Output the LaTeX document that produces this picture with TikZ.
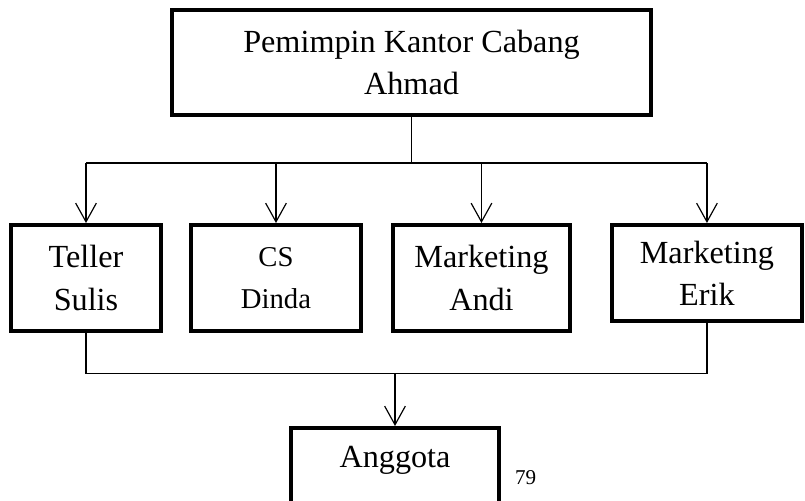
\documentclass[tikz,border=0pt]{standalone}
\usepackage{fontspec}
\setmainfont{Liberation Serif}
\usetikzlibrary{positioning, arrows.meta}

\begin{document}
\begin{tikzpicture}[
  unit/.style={draw, line width=3.4pt, minimum height=3.18cm, align=center,
               inner sep=2pt, font=\fontsize{27.5}{36}\selectfont},
  conn/.style={line width=1pt, color=black},
  arr/.style={-{Straight Barb[length=5.6mm, width=6.2mm, line width=1pt]}, line width=1pt},
  hal/.style={font=\fontsize{18}{20}\selectfont},
]

\useasboundingbox (0,0) rectangle (24.15,-15);

% === Pimpinan (top) ===
\node[unit, minimum width=14.37cm, minimum height=3.15cm] (pimpinan) at (12.345,-1.875)
     {Pemimpin Kantor Cabang\\Ahmad};

% === Staff row ===
\node[unit, minimum width=4.5cm] (teller) at (2.58,-8.34) {Teller\\Sulis};
\node[unit, minimum width=5.1cm, font=\fontsize{24.5}{36}\selectfont,
      right=0.78cm of teller.north east, anchor=north west] (cs) {CS\\Dinda};
\node[unit, minimum width=5.31cm,
      right=0.84cm of cs.north east, anchor=north west] (andi) {Marketing\\Andi};
\node[unit, minimum width=5.7cm, minimum height=2.88cm,
      right=1.14cm of andi.north east, anchor=north west] (erik) {Marketing\\Erik};

% === Anggota (bottom) ===
\node[unit, minimum width=6.24cm, minimum height=3cm, text height=0.6cm, text depth=1.2cm,
      anchor=north] (anggota) at (11.85,-12.78) {Anggota};
\node[hal, right=0.3cm of anggota.east, anchor=west] (nomor) {79};

% === Connectors ===
\coordinate (bus1) at (0,-4.89);
\coordinate (bus2) at (0,-11.2);

\draw[conn] (pimpinan.south) -- (pimpinan.south |- bus1);
\draw[conn] (teller.north |- bus1) -- (erik.north |- bus1);
\foreach \n in {teller, cs, andi, erik}
  \draw[arr] (\n.north |- bus1) -- (\n.north);

\draw[conn] (teller.south) |- (erik.south |- bus2) -- (erik.south);
\draw[arr] (anggota.north |- bus2) -- (anggota.north);

\end{tikzpicture}
\end{document}
